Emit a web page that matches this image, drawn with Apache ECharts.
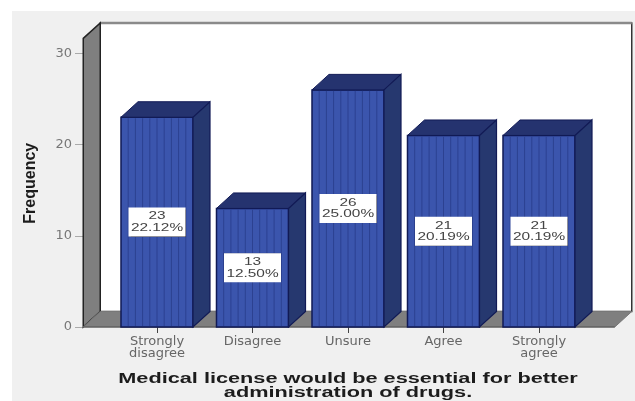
<!DOCTYPE html>
<html>
<head>
<meta charset="utf-8">
<style>html,body{margin:0;padding:0;background:#fff}#c{width:635px;height:401px}</style>
<script src="https://cdn.jsdelivr.net/npm/echarts@6/dist/echarts.min.js"></script>
</head>
<body>
<div id="c"></div>
<script>
const categories = ['Strongly\ndisagree', 'Disagree', 'Unsure', 'Agree', 'Strongly\nagree'];
const frequencies = [23, 13, 26, 21, 21];
const percentLabels = ['22.12%', '12.50%', '25.00%', '20.19%', '20.19%'];
const yTicks = { min: 0, max: 30, interval: 10 };
const xTitle = 'Medical license would be essential for better\nadministration of drugs.';

// Oblique projection of the box and the bars, in pixels
const depthX = 17, depthY = 15.5;
const wallOverhang = 15;     // how far the walls rise above the top tick
const floorLeft = 26, floorRight = 28;
const barShare = 0.754, stripes = 10;

const chart = echarts.init(document.getElementById('c'));

function poly(points, fill, stroke, lineWidth) {
  return { type: 'polygon', shape: { points }, style: { fill, stroke, lineWidth: lineWidth || 1 } };
}

function renderBox(params, api) {
  const band = api.size([1, 0])[0];
  const origin = api.coord([0, 0]);
  const top = api.coord([0, yTicks.max])[1] - wallOverhang;
  const x0 = origin[0] - band / 2 - floorLeft;
  const x1 = api.coord([categories.length - 1, 0])[0] + band / 2 + floorRight;
  const y0 = origin[1];
  return {
    type: 'group',
    children: [
      { type: 'rect', shape: { x: x0 + depthX, y: top - depthY, width: x1 - x0, height: y0 - top },
        style: { fill: '#fff', stroke: '#333', lineWidth: 1.5 } },
      { type: 'line', shape: { x1: x0 + depthX, y1: top - depthY, x2: x1 + depthX, y2: top - depthY },
        style: { stroke: '#8a8a8a', lineWidth: 2.5 } },
      poly([[x0, top], [x0 + depthX, top - depthY], [x0 + depthX, y0 - depthY], [x0, y0]], '#7f7f7f', '#222', 1.5),
      poly([[x0, y0], [x0 + depthX, y0 - depthY], [x1 + depthX, y0 - depthY], [x1, y0]], '#7f7f7f', '#777', 1),
      { type: 'line', shape: { x1: x0, y1: y0, x2: x1, y2: y0 }, style: { stroke: '#555', lineWidth: 1 } }
    ]
  };
}

function renderBar(params, api) {
  const i = api.value(0), v = api.value(1);
  const band = api.size([1, 0])[0];
  const w = band * barShare;
  const c = api.coord([i, v]);
  const base = api.coord([i, 0])[1];
  const left = c[0] - w / 2, right = c[0] + w / 2, t = c[1];
  const kids = [
    { type: 'rect', shape: { x: left, y: t, width: w, height: base - t },
      style: { fill: '#3b55ad', stroke: '#111a55', lineWidth: 1.5 } },
    poly([[left, t], [left + depthX, t - depthY], [right + depthX, t - depthY], [right, t]], '#25336f', '#111a55', 1),
    poly([[right, t], [right + depthX, t - depthY], [right + depthX, base - depthY], [right, base]], '#26386f', '#111a55', 1.2)
  ];
  for (let s = 1; s < stripes; s++) {
    const x = left + w * s / stripes;
    kids.push({ type: 'line', shape: { x1: x, y1: t + 1, x2: x, y2: base - 1 },
      style: { stroke: '#2c4191', lineWidth: 1 } });
  }
  const mid = api.coord([i, v / 2]);
  kids.push({ type: 'rect', shape: { x: mid[0] - 28.5, y: mid[1] - 14.5, width: 57, height: 29 },
    style: { fill: '#fff', shadowBlur: 1, shadowColor: '#223' } });
  kids.push({ type: 'text', x: mid[0], y: mid[1], scaleX: 1.4,
    style: { text: v + '\n' + percentLabels[i], align: 'center', verticalAlign: 'middle',
      fontFamily: 'Liberation Sans', fontSize: 11, lineHeight: 11.5, fill: '#444' } });
  return { type: 'group', children: kids };
}

chart.setOption({
  animation: false,
  backgroundColor: '#fff',
  graphic: [
    { type: 'rect', z: -1, shape: { x: 12, y: 11, width: 623, height: 390 }, style: { fill: '#f0f0f0' } },
    { type: 'text', z: 10, x: 348, y: 386, scaleX: 1.55,
      style: { text: xTitle, align: 'center', verticalAlign: 'middle', fontFamily: 'Liberation Sans',
        fontWeight: 'bold', fontSize: 14, lineHeight: 14, fill: '#1c1c1c' } }
  ],
  grid: { left: 109.25, right: 48.25, top: 53.4, bottom: 74 },
  xAxis: {
    type: 'category',
    data: categories,
    axisLine: { show: false },
    axisTick: { show: true, alignWithLabel: true, length: 6, lineStyle: { color: '#444' } },
    axisLabel: { interval: 0, margin: 9, color: '#666', fontFamily: 'DejaVu Sans', fontSize: 13, lineHeight: 12 }
  },
  yAxis: {
    type: 'value',
    min: yTicks.min, max: yTicks.max, interval: yTicks.interval,
    offset: 26.25,
    splitLine: { show: false },
    axisLine: { show: false },
    axisTick: { show: true, length: 8, lineStyle: { color: '#aaa' } },
    axisLabel: { margin: 11, color: '#777', fontFamily: 'DejaVu Sans', fontSize: 13 },
    name: 'Frequency',
    nameLocation: 'middle',
    nameGap: 30,
    nameTextStyle: { fontFamily: 'Liberation Sans', fontWeight: 'bold', fontSize: 16, color: '#1c1c1c', padding: [0, 0, 14, 14] }
  },
  series: [
    { type: 'custom', renderItem: renderBox, data: [[0, 0]], silent: true, z: 1 },
    { type: 'custom', renderItem: renderBar, z: 3,
      data: frequencies.map((v, i) => [i, v]), encode: { x: 0, y: 1 } }
  ]
});
</script>
</body>
</html>
